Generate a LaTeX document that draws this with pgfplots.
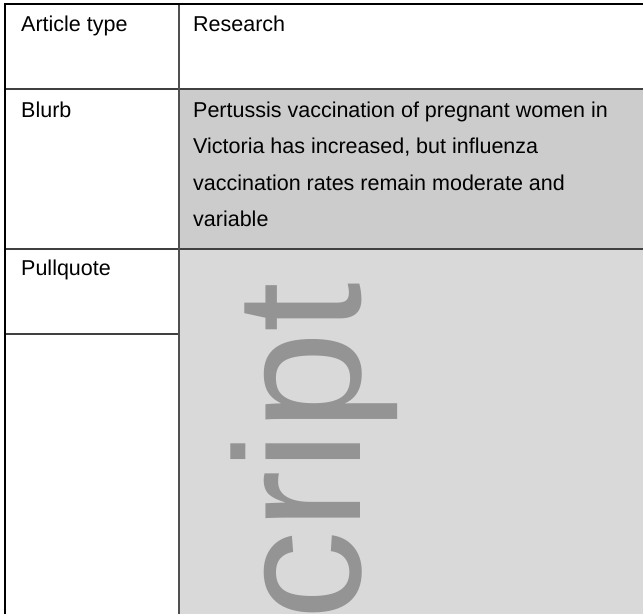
\documentclass[border=0pt]{standalone}
\usepackage{pgfplots}
\pgfplotsset{compat=1.18}
\usepackage{fontspec}
\setmainfont{Liberation Sans}
\definecolor{blurbfill}{HTML}{CCCCCC}
\definecolor{pqfill}{HTML}{D9D9D9}
\definecolor{wm}{HTML}{949494}
\definecolor{rule}{HTML}{404040}
\definecolor{vrule}{HTML}{505050}
\tikzset{cell/.style={anchor=base west, inner sep=0pt, font=\fontsize{21.5bp}{26bp}\selectfont}}
\begin{document}
\begin{tikzpicture}[x=1bp,y=1bp]
\path[use as bounding box] (0,0) rectangle (643bp,614bp);
\clip (0,0) rectangle (643bp,614bp);
\begin{axis}[
  at={(0,0)}, anchor=south west,
  scale only axis, width=643bp, height=614bp,
  xmin=0, xmax=643, ymin=0, ymax=614, y dir=reverse,
  hide axis, clip=false,
]
% cell fills
\addplot[fill=blurbfill, draw=none] coordinates {(179,89) (643,89) (643,249) (179,249) (179,89)};
\addplot[fill=pqfill, draw=none] coordinates {(179,249) (643,249) (643,614) (179,614) (179,249)};
% watermark
\node[rotate=90, anchor=base east, text=wm, inner sep=0pt,
      font=\fontsize{179bp}{179bp}\selectfont] at (axis cs:360,282) {Manuscript};
% rules
\addplot[rule, line width=2bp] coordinates {(5,89) (643,89)};
\addplot[rule, line width=2bp] coordinates {(5,249) (643,249)};
\addplot[rule, line width=2bp] coordinates {(5,334) (179,334)};
\addplot[vrule, line width=2bp] coordinates {(179,4) (179,614)};
\addplot[black, line width=2bp] coordinates {(5,614) (5,4) (643,4)};
% text
\node[cell] at (axis cs:21,31) {Article type};
\node[cell] at (axis cs:193,31) {Research};
\node[cell] at (axis cs:21,117) {Blurb};
\node[cell] at (axis cs:193,117) {Pertussis vaccination of pregnant women in};
\node[cell] at (axis cs:193,153) {Victoria has increased, but influenza};
\node[cell] at (axis cs:193,190) {vaccination rates remain moderate and};
\node[cell] at (axis cs:193,226) {variable};
\node[cell] at (axis cs:21,275) {Pullquote};
\end{axis}
\end{tikzpicture}
\end{document}
